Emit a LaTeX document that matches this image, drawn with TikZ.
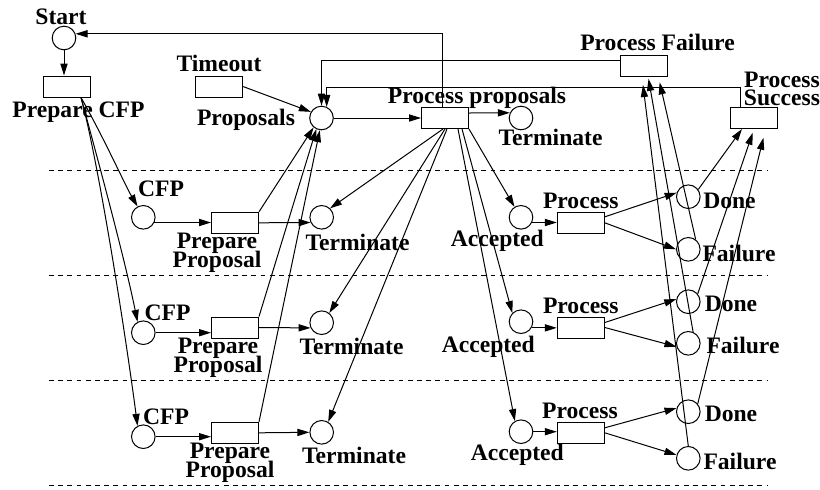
\documentclass[tikz,border=0pt]{standalone}
\usepackage{fontspec}
\setmainfont{Liberation Serif}
\usetikzlibrary{arrows.meta}
\newcommand\lblfont{\fontsize{11.8}{9.4}\selectfont\bfseries\lineskiplimit=-100pt\relax\lineskip=0pt\relax}
\begin{document}
\begin{tikzpicture}[x=0.5pt,y=-0.5pt,
  place/.style={circle,draw,line width=0.5pt,inner sep=0pt,minimum size=11.8pt},
  trans/.style={rectangle,draw,line width=0.5pt,inner sep=0pt,minimum width=23.5pt,minimum height=10.5pt},
  lbl/.style={font=\lblfont,inner sep=0pt,align=center},
  arc/.style={line width=0.5pt,-{Triangle[length=6pt,width=3.6pt]}},
  sep/.style={dash pattern=on 2.4pt off 2.2pt,line width=0.5pt}]
\useasboundingbox (0,0) rectangle (820,489);

% separators
\draw[sep] (49,170.5) -- (767,170.5);
\draw[sep] (49,275.5) -- (767,275.5);
\draw[sep] (49,380.5) -- (767,380.5);
\draw[sep] (49,485) -- (767,485);

% top part
\node[place] (start) at (64,38) {};
\node[lbl] (startL) at (61,17) {Start};
\node[trans] (pcfp) at (67,86.5) {};
\node[lbl] (pcfpL) at (78.5,112) {Prepare CFP};
\node[trans] (timeout) at (219,86.5) {};
\node[lbl] (timeoutL) at (219,63) {Timeout};
\node[place] (prop) at (321.5,118) {};
\node[lbl] (propL) at (246,120) {Proposals};
\node[trans] (pp) at (445,118) {};
\node[lbl] (ppL) at (477,98) {Process proposals};
\node[place] (termT) at (521,118) {};
\node[lbl] (termTL) at (550.5,137.5) {Terminate};
\node[trans] (pf) at (643.7,65.5) {};
\node[lbl] (pfL) at (657.5,42) {Process Failure};
\node[trans] (ps) at (754,118) {};
\node[lbl] (psL) at (782,89) {Process\\Success};

% row 1
\node[place] (cfp1) at (143.3,217.3) {};
\node[lbl] (cfp1L) at (161,189) {CFP};
\node[trans] (pp1) at (235,222.8) {};
\node[lbl] (pp1L) at (217,252.5) {Prepare\\Proposal};
\node[place] (term1) at (321.7,217.3) {};
\node[lbl] (term1L) at (357.5,242.5) {Terminate};
\node[place] (acc1) at (521,217.3) {};
\node[lbl] (acc1L) at (497.3,241.3) {Accepted};
\node[trans] (proc1) at (580.8,222.8) {};
\node[lbl] (proc1L) at (580.8,200.5) {Process};
\node[place] (done1) at (688.3,196.7) {};
\node[lbl] (done1L) at (729.5,201) {Done};
\node[place] (fail1) at (688.3,249.3) {};
\node[lbl] (fail1L) at (739,253.5) {Failure};

% row 2
\node[place] (cfp2) at (143.3,332.7) {};
\node[lbl] (cfp2L) at (167.5,312.7) {CFP};
\node[trans] (pp2) at (235,327.5) {};
\node[lbl] (pp2L) at (218,357.5) {Prepare\\Proposal};
\node[place] (term2) at (321.7,322.7) {};
\node[lbl] (term2L) at (351.5,346) {Terminate};
\node[place] (acc2) at (521,321.7) {};
\node[lbl] (acc2L) at (488.3,346.5) {Accepted};
\node[trans] (proc2) at (580.8,327.5) {};
\node[lbl] (proc2L) at (580.8,305.8) {Process};
\node[place] (done2) at (688.3,301.7) {};
\node[lbl] (done2L) at (731,304) {Done};
\node[place] (fail2) at (688.3,343.3) {};
\node[lbl] (fail2L) at (743,345.5) {Failure};

% row 3
\node[place] (cfp3) at (143.3,436.7) {};
\node[lbl] (cfp3L) at (166,416.7) {CFP};
\node[trans] (pp3) at (235,432.8) {};
\node[lbl] (pp3L) at (230,462.5) {Prepare\\Proposal};
\node[place] (term3) at (321.7,432.3) {};
\node[lbl] (term3L) at (354,455) {Terminate};
\node[place] (acc3) at (521,431.7) {};
\node[lbl] (acc3L) at (517.3,455) {Accepted};
\node[trans] (proc3) at (580.8,432.8) {};
\node[lbl] (proc3L) at (580,410.7) {Process};
\node[place] (done3) at (688.3,411.7) {};
\node[lbl] (done3L) at (731,414) {Done};
\node[place] (fail3) at (688.3,458.3) {};
\node[lbl] (fail3L) at (740,461.7) {Failure};

% connectors: top
\draw[arc] (start.south) -- (start.south |- pcfp.north);
\draw[arc] ([xshift=7pt]pcfp.south) .. controls (105,140) and (125,185) .. (cfp1.118);
\draw[arc] ([xshift=7pt]pcfp.south) .. controls (98,160) and (125,260) .. (cfp2.118);
\draw[arc] ([xshift=7pt]pcfp.south) .. controls (98,160) and (125,330) .. (cfp3.118);
\draw[arc] (timeout.east) -- (prop.150);
\draw[arc] (prop) -- (pp);
\draw[arc] ([yshift=2.5pt]pp.east) -- (termT.155);
\draw[arc] ([xshift=-1.5pt]pp.north) |- (start.20);
\draw[arc] ([yshift=2.5pt]pf.west) -| (prop.north);
\draw[arc] ([xshift=-7pt]ps.north) -- ++(0,10pt) -| (prop.65);

% prepare proposal -> proposals
\draw[arc] (pp1.north east) -- (prop.230);
\draw[arc] (pp2.north east) -- (prop.245);
\draw[arc] (pp3.north east) -- (prop.262);

% CFP -> prepare proposal -> terminate
\draw[arc] (cfp1.-25) -- (cfp1.-25 -| pp1.west);
\draw[arc] (cfp2.east) -- (cfp2.east -| pp2.west);
\draw[arc] (cfp3.east) -- (cfp3.east -| pp3.west);
\draw[arc] (pp1.east) -- (term1.205);
\draw[arc] (pp2.east) -- (term2.205);
\draw[arc] (pp3.east) -- (term3.west);

% process proposals -> terminate / accepted
\draw[arc] ([xshift=-1pt]pp.south) -- (term1.47);
\draw[arc] (pp.south) -- (term2.52);
\draw[arc] ([xshift=1pt]pp.south) -- (term3.58);
\draw[arc] (pp.south east) -- (acc1.122);
\draw[arc] ([xshift=8.5pt]pp.south) -- (acc2.135);
\draw[arc] ([xshift=6.5pt]pp.south) -- (acc3.120);

% accepted -> process -> done / failure
\draw[arc] (acc1.-25) -- (acc1.-25 -| proc1.west);
\draw[arc] (acc2.-30) -- (acc2.-30 -| proc2.west);
\draw[arc] (acc3.east) -- (acc3.east -| proc3.west);
\draw[arc] ([yshift=3pt]proc1.east) -- (done1.161);
\draw[arc] (proc1.east) -- (fail1.west);
\draw[arc] ([yshift=2.5pt]proc2.east) -- (done2.168);
\draw[arc] (proc2.east) -- (fail2.196);
\draw[arc] ([yshift=2.5pt]proc3.east) -- (done3.163);
\draw[arc] (proc3.east) -- (fail3.164);

% done -> process success
\draw[arc] (done1.36) -- ([xshift=-6pt]ps.south);
\draw[arc,shorten >=2pt] (done2.40) -- (ps.south);
\draw[arc,shorten >=4.5pt] (done3.40) -- ([xshift=5.8pt]ps.south);

% failure -> process failure
\draw[arc,shorten >=3pt] (fail1.53) -- ([xshift=7.3pt]pf.south);
\draw[arc,shorten >=1.2pt] (fail2.67) -- ([xshift=2.2pt]pf.south);
\draw[arc,shorten >=4.3pt] (fail3.north) -- ([xshift=-0.9pt]pf.south);
\end{tikzpicture}
\end{document}
